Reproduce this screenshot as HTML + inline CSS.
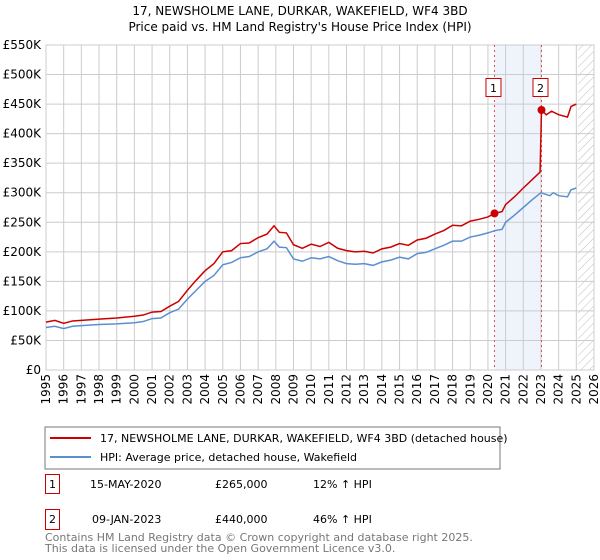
<!DOCTYPE html>
<html><head><meta charset="utf-8"><style>
body{margin:0;background:#fff}
svg{font-family:"DejaVu Sans","Liberation Sans",sans-serif;display:block}
</style></head><body>
<svg id="c" width="600" height="560" viewBox="0 0 600 560">
<text x="300" y="15" text-anchor="middle" font-size="12">17, NEWSHOLME LANE, DURKAR, WAKEFIELD, WF4 3BD</text>
<text x="300" y="31" text-anchor="middle" font-size="12">Price paid vs. HM Land Registry's House Price Index (HPI)</text>
<defs><pattern id="h" width="6" height="6" patternUnits="userSpaceOnUse" patternTransform="rotate(45)"><line x1="0" y1="0" x2="0" y2="6" stroke="#bbb" stroke-width="1"/></pattern></defs>
<g id="grid"></g><g id="marks"></g>
<rect x="45" y="427" width="455" height="42" fill="#fff" stroke="#777"/>
<line x1="50" y1="438" x2="91" y2="438" stroke="#cc0000" stroke-width="2"/>
<text x="100" y="442" font-size="11">17, NEWSHOLME LANE, DURKAR, WAKEFIELD, WF4 3BD (detached house)</text>
<line x1="50" y1="457" x2="91" y2="457" stroke="#5b8fd0" stroke-width="2"/>
<text x="100" y="461" font-size="11">HPI: Average price, detached house, Wakefield</text>
<g font-size="11">
<rect x="45.5" y="474.5" width="14" height="19" fill="none" stroke="#cc0000"/>
<text x="52.5" y="488" text-anchor="middle">1</text>
<text x="90" y="488">15-MAY-2020</text><text x="215" y="488">£265,000</text><text x="313" y="488">12% ↑ HPI</text>
<rect x="45.5" y="509.5" width="14" height="20" fill="none" stroke="#cc0000"/>
<text x="52.5" y="523" text-anchor="middle">2</text>
<text x="92" y="523">09-JAN-2023</text><text x="215" y="523">£440,000</text><text x="313" y="523">46% ↑ HPI</text>
</g>
<text x="45" y="541" font-size="11" fill="#777">Contains HM Land Registry data © Crown copyright and database right 2025.</text>
<text x="45" y="552" font-size="11" fill="#777">This data is licensed under the Open Government Licence v3.0.</text>
</svg>
<script>
const yTicks=[0,50,100,150,200,250,300,350,400,450,500,550];
const yTickLabels=["£0","£50K","£100K","£150K","£200K","£250K","£300K","£350K","£400K","£450K","£500K","£550K"];
const xYears=[1995,1996,1997,1998,1999,2000,2001,2002,2003,2004,2005,2006,2007,2008,2009,2010,2011,2012,2013,2014,2015,2016,2017,2018,2019,2020,2021,2022,2023,2024,2025,2026];
const hpiT=[1995,1995.5,1996,1996.5,1997,1998,1999,2000,2000.5,2001,2001.5,2002,2002.5,2003,2003.5,2004,2004.5,2005,2005.5,2006,2006.5,2007,2007.5,2007.9,2008.2,2008.6,2009,2009.5,2010,2010.5,2011,2011.5,2012,2012.5,2013,2013.5,2014,2014.5,2015,2015.5,2016,2016.5,2017,2017.5,2018,2018.5,2019,2019.5,2020,2020.4,2020.8,2021,2021.5,2022,2022.5,2023,2023.5,2023.7,2024,2024.5,2024.7,2025];
const hpiV=[72,74,70,74,75,77,78,80,82,87,88,97,103,120,135,150,160,178,182,190,192,200,205,218,208,207,188,184,190,188,192,185,180,179,180,177,183,186,191,188,197,199,205,211,218,218,225,228,232,236,238,250,262,275,288,300,295,300,295,293,305,308];
const priceT=[1995,1995.5,1996,1996.5,1997,1998,1999,2000,2000.5,2001,2001.5,2002,2002.5,2003,2003.5,2004,2004.5,2005,2005.5,2006,2006.5,2007,2007.5,2007.9,2008.2,2008.6,2009,2009.5,2010,2010.5,2011,2011.5,2012,2012.5,2013,2013.5,2014,2014.5,2015,2015.5,2016,2016.5,2017,2017.5,2018,2018.5,2019,2019.5,2020,2020.37,2020.8,2021,2021.5,2022,2022.5,2022.95,2023.03,2023.3,2023.6,2024,2024.5,2024.7,2025];
const priceV=[81,84,79,83,84,86,88,91,93,98,99,108,116,135,152,168,180,200,202,214,215,224,230,244,233,232,212,206,213,209,216,206,202,200,201,198,205,208,214,211,220,223,230,236,245,244,252,255,259,265,268,280,293,308,322,335,440,432,438,432,428,446,450];
const saleT=[2020.37,2023.03];
const saleV=[265,440];
const L=46,R=594,T=45,B=370;
const X=t=>L+(t-1995)/(2026-1995)*(R-L);
const Y=v=>B-v/550*(B-T);
const NS="http://www.w3.org/2000/svg";
function mk(tag,attrs,parent){const e=document.createElementNS(NS,tag);for(const k in attrs)e.setAttribute(k,attrs[k]);parent.appendChild(e);return e;}
const g=document.getElementById('grid'),m=document.getElementById('marks');
const sh=mk('rect',{x:X(saleT[0]),y:T,width:X(saleT[1])-X(saleT[0]),height:B-T,fill:'#eef3fc'},g);


const hz=mk('rect',{x:X(2025.1),y:T,width:R-X(2025.1),height:B-T,fill:'url(#h)'},g);


yTicks.forEach((v,i)=>{
 const l=mk('line',{x1:L,x2:R,y1:Y(v),y2:Y(v),stroke:'#ccc'},g);
 
 
 const t=mk('text',{x:41,y:Y(v)+4,'text-anchor':'end','font-size':12},g);
 t.textContent=yTickLabels[i];
 
 
});
xYears.forEach(yr=>{
 const l=mk('line',{x1:X(yr),x2:X(yr),y1:T,y2:B,stroke:'#ccc'},g);
 
 
 const t=mk('text',{transform:`translate(${X(yr)+4},${B+4}) rotate(-90)`,'text-anchor':'end','font-size':12},g);
 t.textContent=yr;
 
 
});
saleT.forEach((s,i)=>{
 const l=mk('line',{x1:X(s),x2:X(s),y1:T,y2:B,stroke:'#e05050','stroke-dasharray':'2,3'},m);
 
 
});
const hp=mk('polyline',{points:hpiT.map((t,i)=>X(t)+','+Y(hpiV[i])).join(' '),fill:'none',stroke:'#5b8fd0','stroke-width':1.5},m);


const pp=mk('polyline',{points:priceT.map((t,i)=>X(t)+','+Y(priceV[i])).join(' '),fill:'none',stroke:'#cc0000','stroke-width':1.5},m);


saleT.forEach((s,i)=>{
 const c=mk('circle',{cx:X(s),cy:Y(saleV[i]),r:4,fill:'#cc0000'},m);
 
 
 const bx=mk('rect',{x:X(s)-8.5,y:78.5,width:15,height:18,fill:'#fff',stroke:'#cc0000'},m);
 
 
 const t=mk('text',{x:X(s)-1,y:92,'text-anchor':'middle','font-size':11},m);
 t.textContent=String(i+1);
 
 
});
mk('rect',{x:L,y:T,width:R-L,height:B-T,fill:'none',stroke:'#ccc'},g);
</script>
</body></html>
